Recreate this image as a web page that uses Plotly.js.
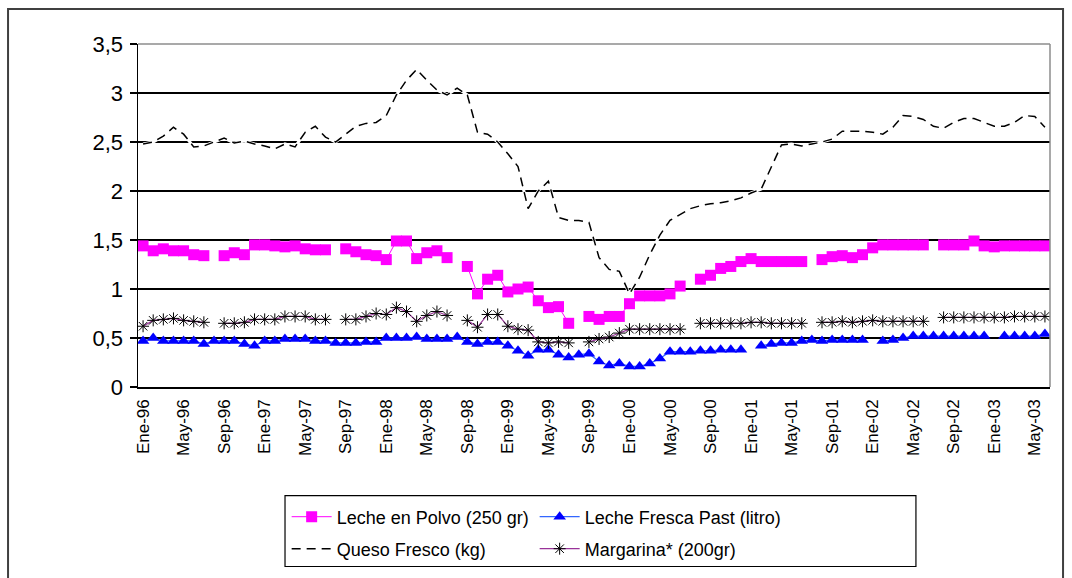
<!DOCTYPE html>
<html>
<head>
<meta charset="utf-8">
<script src="https://cdn.plot.ly/plotly-3.0.1.min.js"></script>
<style>html,body{margin:0;padding:0;background:#fff;}#chart{width:1072px;height:578px;}</style>
</head>
<body>
<div id="chart"></div>
<script>
const months = [
 "Ene-96","Feb-96","Mar-96","Abr-96","May-96","Jun-96","Jul-96","Ago-96","Sep-96","Oct-96","Nov-96","Dic-96",
 "Ene-97","Feb-97","Mar-97","Abr-97","May-97","Jun-97","Jul-97","Ago-97","Sep-97","Oct-97","Nov-97","Dic-97",
 "Ene-98","Feb-98","Mar-98","Abr-98","May-98","Jun-98","Jul-98","Ago-98","Sep-98","Oct-98","Nov-98","Dic-98",
 "Ene-99","Feb-99","Mar-99","Abr-99","May-99","Jun-99","Jul-99","Ago-99","Sep-99","Oct-99","Nov-99","Dic-99",
 "Ene-00","Feb-00","Mar-00","Abr-00","May-00","Jun-00","Jul-00","Ago-00","Sep-00","Oct-00","Nov-00","Dic-00",
 "Ene-01","Feb-01","Mar-01","Abr-01","May-01","Jun-01","Jul-01","Ago-01","Sep-01","Oct-01","Nov-01","Dic-01",
 "Ene-02","Feb-02","Mar-02","Abr-02","May-02","Jun-02","Jul-02","Ago-02","Sep-02","Oct-02","Nov-02","Dic-02",
 "Ene-03","Feb-03","Mar-03","Abr-03","May-03","Jun-03"
];
const tickLabels = ["Ene-96","May-96","Sep-96","Ene-97","May-97","Sep-97","Ene-98","May-98","Sep-98",
 "Ene-99","May-99","Sep-99","Ene-00","May-00","Sep-00","Ene-01","May-01","Sep-01","Ene-02","May-02",
 "Sep-02","Ene-03","May-03"];

const lechePolvo = [
 1.44,1.39,1.41,1.39,1.39,1.35,1.34,null,1.34,1.37,1.35,1.45,
 1.45,1.44,1.43,1.44,1.41,1.40,1.40,null,1.41,1.38,1.35,1.34,
 1.30,1.49,1.49,1.31,1.37,1.39,1.32,null,1.23,0.95,1.10,1.14,
 0.97,1.00,1.02,0.88,0.81,0.82,0.65,null,0.72,0.69,0.72,0.72,
 0.85,0.93,0.93,0.93,0.95,1.03,null,1.10,1.14,1.21,1.23,1.28,
 1.31,1.28,1.28,1.28,1.28,1.28,null,1.30,1.33,1.34,1.32,1.35,
 1.42,1.45,1.45,1.45,1.45,1.45,null,1.45,1.45,1.45,1.49,1.44,
 1.43,1.44,1.44,1.44,1.44,1.44
];
const lecheFresca = [
 0.47,0.50,0.47,0.47,0.47,0.47,0.44,0.47,0.47,0.47,0.44,0.42,
 0.47,0.47,0.49,0.49,0.49,0.47,0.47,0.45,0.45,0.45,0.46,0.46,
 0.50,0.50,0.50,0.51,0.49,0.49,0.49,0.51,0.46,0.44,0.46,0.46,
 0.42,0.37,0.32,0.38,0.38,0.33,0.30,0.33,0.34,0.26,0.22,0.24,
 0.21,0.21,0.24,0.29,0.36,0.36,0.36,0.37,0.37,0.38,0.38,0.38,
 null,0.42,0.44,0.45,0.45,0.47,0.48,0.47,0.48,0.48,0.48,0.48,
 null,0.47,0.48,0.50,0.52,0.52,0.52,0.52,0.52,0.52,0.52,0.52,
 null,0.52,0.52,0.52,0.52,0.54
];
const quesoFresco = [
 2.48,2.50,2.56,2.65,2.58,2.45,2.46,2.50,2.54,2.49,2.51,2.48,
 2.46,2.43,2.48,2.45,2.60,2.66,2.55,2.50,2.58,2.66,2.69,2.70,
 2.77,2.98,3.13,3.24,3.13,3.03,2.98,3.05,2.98,2.60,2.58,2.50,
 2.38,2.25,1.82,2.00,2.10,1.73,1.70,1.70,1.68,1.32,1.20,1.18,
 0.95,1.12,1.35,1.55,1.70,1.76,1.82,1.85,1.87,1.88,1.90,1.93,
 1.98,2.02,2.25,2.47,2.48,2.46,2.48,2.50,2.53,2.61,2.61,2.61,
 2.60,2.58,2.65,2.77,2.76,2.73,2.66,2.64,2.70,2.74,2.74,2.70,
 2.66,2.66,2.70,2.77,2.76,2.65
];
const margarina = [
 0.62,0.68,0.69,0.70,0.68,0.67,0.66,null,0.65,0.65,0.66,0.69,
 0.69,0.69,0.72,0.72,0.72,0.69,0.69,null,0.69,0.69,0.72,0.75,
 0.74,0.81,0.77,0.67,0.73,0.77,0.73,null,0.68,0.61,0.74,0.74,
 0.62,0.59,0.58,0.46,0.45,0.46,0.45,null,0.46,0.49,0.51,0.55,
 0.59,0.59,0.59,0.59,0.59,0.59,null,0.65,0.65,0.65,0.65,0.65,
 0.66,0.66,0.65,0.65,0.65,0.65,null,0.66,0.66,0.67,0.66,0.67,
 0.68,0.67,0.67,0.67,0.67,0.67,null,0.71,0.71,0.71,0.71,0.71,
 0.71,0.71,0.72,0.72,0.72,0.72
];
const boundaryTicks = [-0.5,3.5,7.5,11.5,15.5,19.5,23.5,27.5,31.5,35.5,39.5,43.5,47.5,51.5,55.5,59.5,63.5,67.5,71.5,75.5,79.5,83.5,87.5];

const FONT = "Liberation Sans, Arial, sans-serif";

const traces = [
  {x: months, y: lechePolvo, name: "Leche en Polvo (250 gr)", type: "scatter", mode: "lines+markers",
   line: {color: "#FF00FF", width: 1}, marker: {symbol: "square", size: 11, color: "#FF00FF"},
   legend: "legend", hoverinfo: "skip"},
  {x: months, y: lecheFresca, name: "Leche Fresca Past (litro)", type: "scatter", mode: "lines+markers",
   line: {color: "#3366FF", width: 1.2}, marker: {symbol: "triangle-up", size: 11, color: "#0000FF"},
   legend: "legend", hoverinfo: "skip"},
  {x: months, y: margarina, name: "Margarina* (200gr)", type: "scatter", mode: "lines+markers",
   line: {color: "#993399", width: 1.2}, marker: {symbol: "asterisk-open", size: 10, color: "#000000", line: {color: "#000000", width: 1}},
   legend: "legend2", hoverinfo: "skip"},
  {x: months, y: quesoFresco, name: "Queso Fresco (kg) fondo", type: "scatter", mode: "lines",
   line: {color: "#FFFFFF", width: 3}, showlegend: false, hoverinfo: "skip"},
  {x: months, y: quesoFresco, name: "Queso Fresco (kg)", type: "scatter", mode: "lines",
   line: {color: "#000000", width: 1.5, dash: "9px,6px"}, legend: "legend2", hoverinfo: "skip"}
];

const layout = {
  width: 1072, height: 578,
  margin: {l: 138, r: 22, t: 44, b: 190},
  paper_bgcolor: "#FFFFFF", plot_bgcolor: "#FFFFFF",
  separators: ", ",
  font: {family: FONT, color: "#000000", size: 17},
  showlegend: true,
  xaxis: {
    type: "category", range: [-0.5, 89.5], autorange: false,
    tickmode: "array", tickvals: tickLabels, ticktext: tickLabels,
    tickangle: -90, ticks: "", showgrid: false, zeroline: false,
    showline: true, linecolor: "#000000", linewidth: 1.5,
    tickfont: {family: FONT, size: 17, color: "#000000"}, ticklabelstandoff: 4
  },
  xaxis2: {
    type: "linear", overlaying: "x", anchor: "y", side: "bottom",
    range: [-0.5, 89.5], autorange: false,
    tickmode: "array", tickvals: boundaryTicks, showticklabels: false,
    ticks: "outside", ticklen: 6, tickwidth: 1.5, tickcolor: "#000000",
    showgrid: false, zeroline: false, showline: false
  },
  yaxis: {
    range: [0, 3.5], autorange: false, tickmode: "linear", tick0: 0, dtick: 0.5,
    showgrid: true, gridcolor: "#000000", gridwidth: 1.5, zeroline: false,
    showline: true, linecolor: "#000000", linewidth: 1.5,
    ticks: "outside", ticklen: 7, tickwidth: 1.5, tickcolor: "#000000",
    tickfont: {family: FONT, size: 22, color: "#000000"}, ticklabelstandoff: 2
  },
  legend: {
    orientation: "h", x: 0.163, xanchor: "left", y: -0.375, yanchor: "middle",
    entrywidth: 193, entrywidthmode: "pixels", itemwidth: 40,
    font: {family: FONT, size: 18, color: "#000000"},
    bgcolor: "rgba(0,0,0,0)", borderwidth: 0, traceorder: "normal"
  },
  legend2: {
    orientation: "h", x: 0.163, xanchor: "left", y: -0.468, yanchor: "middle",
    entrywidth: 193, entrywidthmode: "pixels", itemwidth: 40,
    font: {family: FONT, size: 18, color: "#000000"},
    bgcolor: "rgba(0,0,0,0)", borderwidth: 0, traceorder: "reversed"
  },
  shapes: [
    {type: "line", xref: "paper", yref: "paper", x0: 0, x1: 1, y0: 1, y1: 1,
     line: {color: "#8C8C8C", width: 1.5}, layer: "above"},
    {type: "line", xref: "paper", yref: "paper", x0: 1, x1: 1, y0: 0, y1: 1,
     line: {color: "#8C8C8C", width: 1.5}, layer: "above"},
    {type: "rect", xref: "paper", yref: "paper", x0: 0.1612, x1: 0.853, y0: -0.3169, y1: -0.5233,
     line: {color: "#000000", width: 1.2}, fillcolor: "rgba(0,0,0,0)"},
    {type: "rect", xref: "paper", yref: "paper", x0: -0.1425, x1: 1.0143, y0: 1.1017, y1: -0.7,
     line: {color: "#404040", width: 2}, fillcolor: "rgba(0,0,0,0)"}
  ]
};

Plotly.newPlot("chart", traces, layout, {displayModeBar: false, staticPlot: true});
</script>
</body>
</html>
